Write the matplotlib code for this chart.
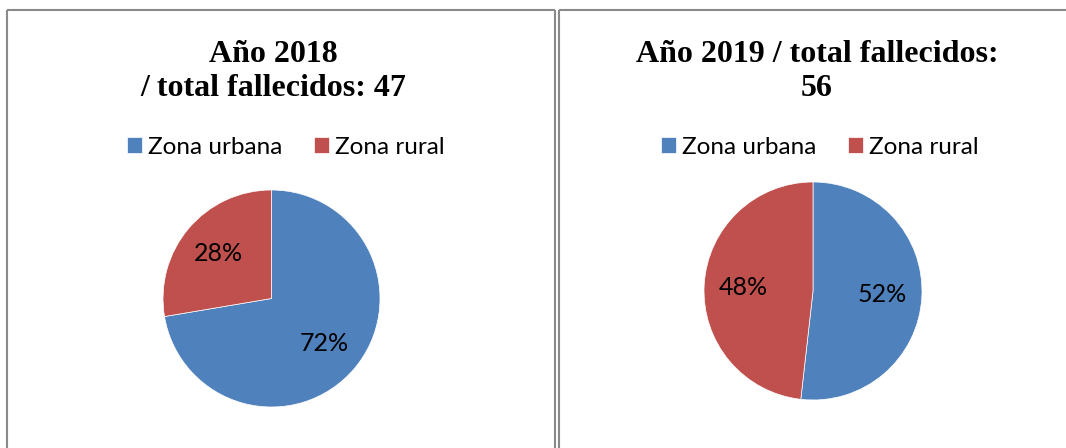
import matplotlib
matplotlib.use("Agg")
import matplotlib.pyplot as plt
from matplotlib.lines import Line2D

# data
categories = ["Zona urbana", "Zona rural"]
deaths_2018 = [34, 13]   # total 47 -> 72% / 28%
deaths_2019 = [29, 27]   # total 56 -> 52% / 48%
titles = ["Año 2018\n/ total fallecidos: 47", "Año 2019 / total fallecidos:\n56"]
colors = ["#4F81BD", "#C0504D"]

W, H = 1066, 448
fig = plt.figure(figsize=(W / 100, H / 100), dpi=100)
fig.patch.set_facecolor("white")


def fx(x):
    return x / W


def fy(y):
    return 1 - y / H


# panel borders
border = dict(color="#8a8a8a", linewidth=1.5, solid_capstyle="butt")
fig.add_artist(Line2D([fx(6.5), fx(6.5)], [fy(10), 0], **border))
fig.add_artist(Line2D([fx(6.5), fx(554.5)], [fy(10), fy(10)], **border))
fig.add_artist(Line2D([fx(554.5), fx(554.5)], [fy(10), 0], **border))
fig.add_artist(Line2D([fx(558.5), fx(558.5)], [fy(10), 0], **border))
fig.add_artist(Line2D([fx(558.5), 1], [fy(10), fy(10)], **border))

panels = [
    dict(values=deaths_2018, title=titles[0], cx=271.5, cy=298.5, r=108.5, tx=273, lx=286),
    dict(values=deaths_2019, title=titles[1], cx=813, cy=291, r=109, tx=817, lx=820),
]

for p in panels:
    r = p["r"]
    ax = fig.add_axes([fx(p["cx"] - r), fy(p["cy"] + r), 2 * r / W, 2 * r / H])
    wedges, _, autotexts = ax.pie(
        p["values"], colors=colors, startangle=90, counterclock=False,
        autopct="%1.0f%%", pctdistance=0.64,
        wedgeprops=dict(edgecolor="white", linewidth=0.5),
        textprops=dict(family="Lato", fontsize=18, color="black"),
    )
    ax.set_xlim(-1, 1)
    ax.set_ylim(-1, 1)
    ax.axis("off")

    # baseline alignment anchors the last line of the title
    fig.text(fx(p["tx"]), fy(96), p["title"], ha="center", va="baseline",
             family="Liberation Serif", fontweight="bold", fontsize=23,
             linespacing=1.22)

    fig.legend(wedges, categories, loc="center", bbox_to_anchor=(fx(p["lx"]), fy(147)),
               ncol=2, frameon=False, handlelength=0.62, handleheight=0.62,
               handletextpad=0.25, columnspacing=1.28, borderpad=0,
               prop=dict(family="Lato", size=17.5))

fig.savefig("out.png", dpi=100, facecolor="white")
